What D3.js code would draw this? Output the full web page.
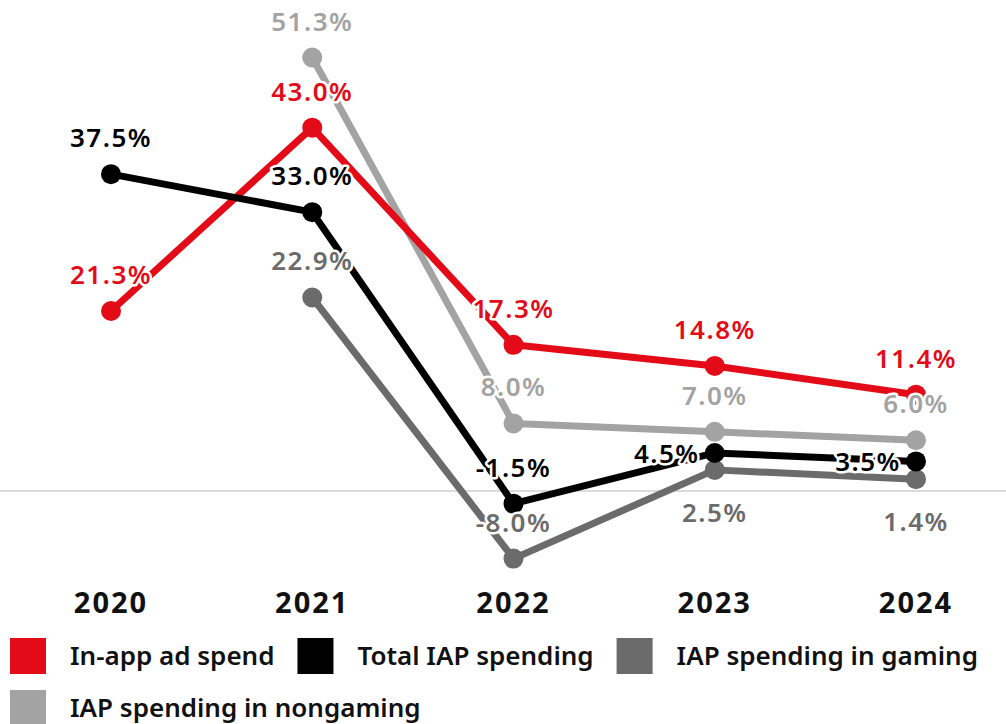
<html>
<head>
  <script src="https://cdn.jsdelivr.net/npm/d3@7"></script>
  <meta charset="UTF-8">
  <style>
  body { margin: 0; background: #fff; }
  svg { display: block; }
  .val { font-family: "Noto Sans", sans-serif; font-weight: 600; font-size: 26px; letter-spacing: 1.5px; }
  .year { font-family: "Noto Sans", sans-serif; font-weight: 700; font-size: 29px; letter-spacing: 2px; }
  .leg { font-family: "Noto Sans", sans-serif; font-weight: 600; font-size: 26px; }
  </style>
</head>
<body>
<div id="chart"></div>
<script>

// values (percent change, year over year)
const years = ['2020', '2021', '2022', '2023', '2024'];
const seriesNames = ['In-app ad spend', 'Total IAP spending', 'IAP spending in gaming', 'IAP spending in nongaming'];
const adSpend   = [21.3, 43.0, 17.3, 14.8, 11.4];
const totalIAP  = [37.5, 33.0, -1.5, 4.5, 3.5];
const gamingIAP = [null, 22.9, -8.0, 2.5, 1.4];
const nongamingIAP = [null, 51.3, 8.0, 7.0, 6.0];

const colors = ['#e30b17', '#000000', '#6b6b6b', '#a3a3a3'];

// where each value label sits relative to its dot
const labelSpots = [
  ['up', 'up', 'up', 'up', 'up'],
  ['up', 'up', 'up', 'left', 'left'],
  [null, 'up', 'up', 'down', 'down'],
  [null, 'up', 'up', 'up', 'up']
];

const width = 1006, height = 724;

const svg = d3.select('#chart').append('svg')
  .attr('width', width)
  .attr('height', height);

const x = d3.scalePoint().domain(years).range([111, 916]);
const y = d3.scaleLinear().domain([-10, 55]).range([575.5, 26.25]);

const allSeries = [adSpend, totalIAP, gamingIAP, nongamingIAP].map((vals, i) => ({
  name: seriesNames[i],
  color: colors[i],
  points: vals.map((v, j) => ({ year: years[j], value: v, spot: labelSpots[i][j] })).filter(p => p.value !== null)
}));

// zero line
svg.append('line')
  .attr('x1', 0).attr('x2', width)
  .attr('y1', y(0)).attr('y2', y(0))
  .attr('stroke', '#cfcfcf')
  .attr('stroke-width', 1.5);

const line = d3.line()
  .x(d => x(d.year))
  .y(d => y(d.value));

// draw order: nongaming, gaming, ad spend, total
const drawOrder = [3, 2, 0, 1];

for (const i of drawOrder) {
  const s = allSeries[i];
  const g = svg.append('g');
  g.append('path')
    .datum(s.points)
    .attr('fill', 'none')
    .attr('stroke', s.color)
    .attr('stroke-width', 7)
    .attr('stroke-linejoin', 'round')
    .attr('d', line);
  g.selectAll('circle')
    .data(s.points)
    .join('circle')
      .attr('cx', d => x(d.year))
      .attr('cy', d => y(d.value))
      .attr('r', 10)
      .attr('fill', s.color);
}

// value labels on top
for (const i of drawOrder) {
  const s = allSeries[i];
  svg.append('g').selectAll('text')
    .data(s.points)
    .join('text')
      .attr('class', 'val')
      .attr('x', d => x(d.year) + (d.spot === 'left' ? -48 : 0))
      .attr('y', d => y(d.value) + (d.spot === 'up' ? -27 : d.spot === 'down' ? 52 : 10))
      .attr('text-anchor', 'middle')
      .attr('fill', s.color)
      .attr('stroke', '#fff')
      .attr('stroke-width', 5)
      .attr('stroke-linejoin', 'round')
      .attr('paint-order', 'stroke')
      .text(d => d.value.toFixed(1) + '%');
}

// year labels
svg.append('g').selectAll('text')
  .data(years)
  .join('text')
    .attr('class', 'year')
    .attr('x', d => x(d))
    .attr('y', 613)
    .attr('text-anchor', 'middle')
    .attr('fill', '#111')
    .text(d => d);

// legend
const legend = svg.append('g');
let lx = 10, ly = 638;
for (const s of allSeries) {
  const item = legend.append('g');
  item.append('rect')
    .attr('width', 36).attr('height', 36)
    .attr('fill', s.color);
  const t = item.append('text')
    .attr('class', 'leg')
    .attr('x', 60)
    .attr('y', 27)
    .attr('fill', '#111')
    .text(s.name);
  const w = 60 + t.node().getComputedTextLength();
  if (lx + w > 985) { lx = 10; ly += 52; }
  item.attr('transform', `translate(${lx},${ly})`);
  lx += w + 23;
}

</script>
</body>
</html>
